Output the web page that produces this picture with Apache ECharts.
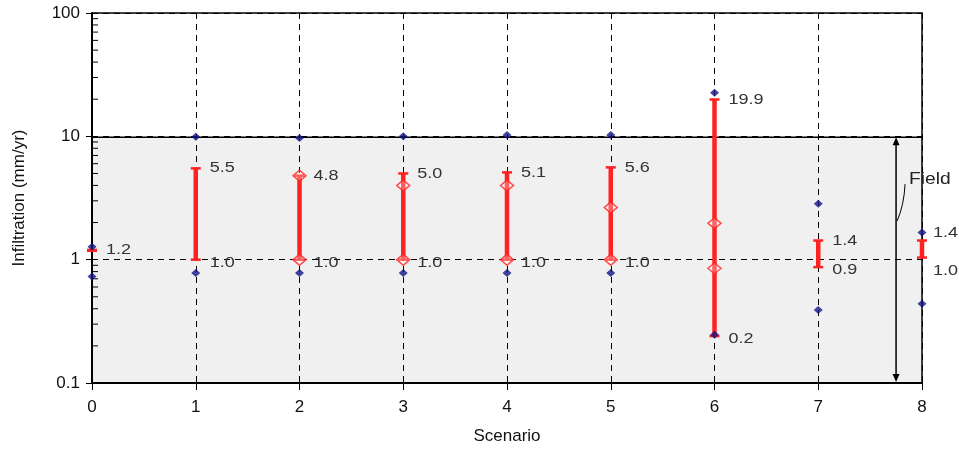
<!DOCTYPE html>
<html>
<head>
<meta charset="utf-8">
<script src="https://cdn.jsdelivr.net/npm/echarts@6/dist/echarts.min.js"></script>
<style>
  html, body { margin: 0; padding: 0; background: #fff; }
  #chart { width: 959px; height: 449px; }
</style>
</head>
<body>
<div id="chart"></div>
<script>
// scenario numbers
var scenarios = [0, 1, 2, 3, 4, 5, 6, 7, 8];
// red range bars
var barLow  = [1.18, 1.0, 1.0, 1.0, 1.0, 1.0, 0.24, 0.87, 1.04];
var barHigh = [1.2, 5.5, 4.8, 5.0, 5.1, 5.6, 19.9, 1.43, 1.43];
var highText = ['1.2', '5.5', '4.8', '5.0', '5.1', '5.6', '19.9', '1.4', '1.4'];
var lowText  = ['', '1.0', '1.0', '1.0', '1.0', '1.0', '0.2', '0.9', '1.0'];
// blue points (max / min)
var blueHigh = [1.27, 9.9, 9.7, 10.0, 10.25, 10.25, 22.6, 2.84, 1.66];
var blueLow  = [0.73, 0.78, 0.78, 0.78, 0.78, 0.78, 0.246, 0.39, 0.44];
// open red diamonds
var meanX = [2, 2, 3, 3, 4, 4, 5, 5, 6, 6];
var meanY = [4.8, 1.0, 4.0, 1.0, 4.0, 1.0, 2.65, 1.0, 1.97, 0.85];
// field range
var fieldX = 7.75, fieldLow = 0.1, fieldHigh = 10;
var yTicks = [0.1, 1, 10, 100];

var RED = '#ff2222';
var BLUE = '#141485';
var FONT = 'Liberation Sans';

var minorVals = [];
[0.1, 1, 10].forEach(function (d) {
  for (var k = 2; k <= 9; k++) minorVals.push(+(d * k).toFixed(2));
});

var chart = echarts.init(document.getElementById('chart'));

var bluePts = [];
scenarios.forEach(function (s, i) {
  bluePts.push([s, blueHigh[i]]);
  bluePts.push([s, blueLow[i]]);
});

// the last pair of labels sits a bit off the bar ends: [dx, dyTop, dyBottom]
var labelNudge = { 8: [-3, -8, 10] };

function label(txt, x, y) {
  return { type: 'text', x: x, y: y, scaleX: 1.2, z2: 10,
    style: { text: txt, fill: '#333', font: '15px ' + FONT, verticalAlign: 'middle' } };
}

function renderBar(params, api) {
  var i = params.dataIndex;
  var x = api.value(0);
  var lo = api.coord([x, api.value(1)]);
  var hi = api.coord([x, api.value(2)]);
  var w = 5;
  var nudge = labelNudge[i] || [0, 0, 0];
  var kids = [
    { type: 'line', shape: { x1: lo[0], y1: lo[1], x2: hi[0], y2: hi[1] }, style: { stroke: RED, lineWidth: 4.5 } },
    { type: 'line', shape: { x1: hi[0] - w, y1: hi[1], x2: hi[0] + w, y2: hi[1] }, style: { stroke: RED, lineWidth: 2.5 } },
    { type: 'line', shape: { x1: lo[0] - w, y1: lo[1], x2: lo[0] + w, y2: lo[1] }, style: { stroke: RED, lineWidth: 2.5 } }
  ];
  if (highText[i]) kids.push(label(highText[i], hi[0] + 14 + nudge[0], hi[1] + nudge[1]));
  if (lowText[i]) kids.push(label(lowText[i], lo[0] + 14 + nudge[0], lo[1] + 3 + nudge[2]));
  return { type: 'group', children: kids };
}

var option = {
  animation: false,
  grid: {
    left: 92, right: 37, top: 13, bottom: 66,
    outerBoundsMode: 'none', containLabel: false,
    show: true, borderColor: '#000', borderWidth: 1.5, backgroundColor: 'transparent'
  },
  xAxis: {
    type: 'value', min: 0, max: 8, interval: 1,
    name: 'Scenario', nameLocation: 'middle', nameGap: 45,
    nameTextStyle: { fontFamily: FONT, fontSize: 17, color: '#111' },
    axisLine: { lineStyle: { color: '#000', width: 2 } },
    axisTick: { length: 7, lineStyle: { color: '#000' } },
    axisLabel: { fontFamily: FONT, fontSize: 17, color: '#111', margin: 16 },
    splitLine: { show: true, lineStyle: { color: '#000', type: [6, 5], width: 1 } }
  },
  yAxis: {
    type: 'log', logBase: 10, min: 0.1, max: 100,
    name: 'Infiltration (mm/yr)', nameLocation: 'middle', nameGap: 64,
    nameTextStyle: { fontFamily: FONT, fontSize: 17, color: '#111' },
    axisLine: { show: true, lineStyle: { color: '#000', width: 2 } },
    axisTick: { length: 6, lineStyle: { color: '#000' } },
    axisLabel: { fontFamily: FONT, fontSize: 17, color: '#111', margin: 12,
      formatter: function (v) { return yTicks.indexOf(+v.toFixed(2)) >= 0 ? String(+v.toFixed(2)) : ''; } },
    splitLine: { show: true, lineStyle: { color: '#000', type: [6, 5], width: 1 } }
  },
  series: [
    {
      // shaded field band
      type: 'custom', z: -1, silent: true,
      data: [[0, fieldLow, 8, fieldHigh]],
      renderItem: function (params, api) {
        var a = api.coord([api.value(0), api.value(3)]);
        var b = api.coord([api.value(2), api.value(1)]);
        return { type: 'group', children: [
          { type: 'rect', shape: { x: a[0], y: a[1], width: b[0] - a[0], height: b[1] - a[1] }, style: { fill: '#f0f0f0' } },
          { type: 'line', shape: { x1: a[0], y1: a[1] + 1, x2: b[0], y2: a[1] + 1 }, style: { stroke: '#000', lineWidth: 1.5 } }
        ] };
      }
    },
    {
      // log minor ticks
      type: 'custom', silent: true, z: 3,
      data: minorVals.map(function (v) { return [0, v]; }),
      renderItem: function (params, api) {
        var p = api.coord([0, api.value(1)]);
        return { type: 'line', shape: { x1: p[0], y1: p[1], x2: p[0] + 6, y2: p[1] }, style: { stroke: '#000', lineWidth: 1 } };
      }
    },
    {
      type: 'custom', z: 4, silent: true,
      data: scenarios.map(function (s, i) { return [s, barLow[i], barHigh[i]]; }),
      renderItem: renderBar
    },
    {
      type: 'scatter', z: 5, silent: true,
      symbol: 'diamond', symbolSize: [13, 11],
      itemStyle: { color: 'rgba(255,255,255,0.35)', borderColor: RED, borderWidth: 1.5 },
      data: meanX.map(function (x, i) { return [x, meanY[i]]; })
    },
    {
      type: 'scatter', z: 6, silent: true,
      symbol: 'diamond', symbolSize: [9, 8],
      itemStyle: { color: BLUE },
      data: bluePts
    },
    {
      // Field arrow and label
      type: 'custom', z: 6, silent: true,
      data: [[fieldX, fieldLow, fieldHigh]],
      renderItem: function (params, api) {
        var top = api.coord([api.value(0), api.value(2)]);
        var bot = api.coord([api.value(0), api.value(1)]);
        var x = top[0];
        var ty = api.coord([api.value(0), 4.5])[1];
        return { type: 'group', children: [
          { type: 'line', shape: { x1: x, y1: top[1] + 6, x2: x, y2: bot[1] - 6 }, style: { stroke: '#000', lineWidth: 1.5 } },
          { type: 'polygon', shape: { points: [[x, top[1] + 1], [x - 3.5, top[1] + 9], [x + 3.5, top[1] + 9]] }, style: { fill: '#000' } },
          { type: 'polygon', shape: { points: [[x, bot[1] - 1], [x - 3.5, bot[1] - 9], [x + 3.5, bot[1] - 9]] }, style: { fill: '#000' } },
          { type: 'bezierCurve', shape: { x1: x + 9, y1: ty + 5, cpx1: x + 8, cpy1: ty + 26, x2: x + 1, y2: ty + 42 }, style: { stroke: '#000', lineWidth: 1, fill: null } },
          { type: 'text', x: x + 13, y: ty, scaleX: 1.2, style: { text: 'Field', fill: '#222', font: '16px ' + FONT, verticalAlign: 'middle' } }
        ] };
      }
    }
  ]
};

chart.setOption(option);
</script>
</body>
</html>
